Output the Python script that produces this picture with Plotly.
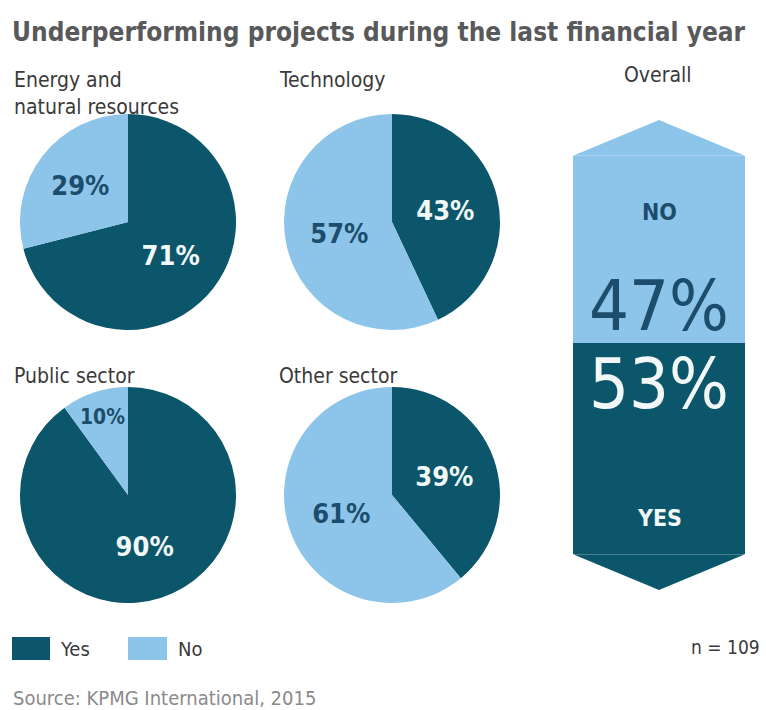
import plotly.graph_objects as go

# ---- data ----
answers = ["Yes", "No"]
sectors = ["Energy and<br>natural resources", "Technology", "Public sector", "Other sector"]
yes_pct = [71, 43, 90, 39]
no_pct = [29, 57, 10, 61]
overall_label = "Overall"
overall_yes = 53
overall_no = 47
sample_size = 109

# ---- styling ----
W, H = 766, 710
DARK = "#0b566b"
LIGHT = "#8dc5ea"
INK_ON_LIGHT = "#1d4d6c"
INK_ON_DARK = "#f2f7f7"
TITLE_GREY = "#58595b"
TEXT = "#3a3a3a"
NARROW = "DejaVu Sans Condensed, Liberation Sans Narrow, Arial Narrow, sans-serif"


def px_x(x):
    return x / W


def px_y(y):
    return 1 - y / H


fig = go.Figure()

# pie grid: centre positions in pixels, radius in pixels
centres = [(128, 222), (392, 222), (128, 495), (392, 495)]
R = 108
title_pos = [(12, 66), (277, 66), (12, 362), (277, 362)]

for name, y_v, n_v, (cx, cy) in zip(sectors, yes_pct, no_pct, centres):
    fig.add_trace(go.Pie(
        labels=answers,
        values=[y_v, n_v],
        sort=False,
        direction="clockwise",
        rotation=0,
        marker=dict(colors=[DARK, LIGHT], line=dict(width=0)),
        texttemplate="<b>%{value}%</b>",
        textposition="inside",
        insidetextorientation="horizontal",
        textfont=dict(family=NARROW, size=27, color=[INK_ON_DARK, INK_ON_LIGHT]),
        hoverinfo="label+value",
        showlegend=False,
        domain=dict(x=[px_x(cx - R), px_x(cx + R)], y=[px_y(cy + R), px_y(cy - R)]),
    ))

# overall: stacked bar with chevron ends
CHEV = 9
fig.add_trace(go.Bar(x=[0], y=[overall_yes], width=1, marker=dict(color=DARK, line=dict(width=0)),
                     name="Yes", showlegend=False, hoverinfo="y"))
fig.add_trace(go.Bar(x=[0], y=[overall_no], width=1, marker=dict(color=LIGHT, line=dict(width=0)),
                     name="No", showlegend=False, hoverinfo="y"))

total = overall_yes + overall_no
shapes = [
    dict(type="path", xref="x", yref="y", path=f"M -0.5 {total} L 0 {total + CHEV} L 0.5 {total} Z",
         fillcolor=LIGHT, line=dict(width=0), layer="below"),
    dict(type="path", xref="x", yref="y", path=f"M -0.5 0 L 0 {-CHEV} L 0.5 0 Z",
         fillcolor=DARK, line=dict(width=0), layer="below"),
    # legend swatches
    dict(type="rect", xref="paper", yref="paper", x0=px_x(12), x1=px_x(50), y0=px_y(660), y1=px_y(637),
         fillcolor=DARK, line=dict(width=0)),
    dict(type="rect", xref="paper", yref="paper", x0=px_x(128), x1=px_x(167), y0=px_y(660), y1=px_y(637),
         fillcolor=LIGHT, line=dict(width=0)),
]

annotations = [
    dict(text="<b>Underperforming projects during the last financial year</b>", x=px_x(10), y=px_y(32),
         xref="paper", yref="paper", xanchor="left", yanchor="middle", showarrow=False,
         font=dict(family=NARROW, size=26, color=TITLE_GREY)),
    dict(text=overall_label, x=px_x(658), y=px_y(75), xref="paper", yref="paper", xanchor="center",
         yanchor="middle", showarrow=False, font=dict(family=NARROW, size=21, color=TEXT)),
    dict(text="<b>NO</b>", x=0, y=total - 14, xref="x", yref="y", showarrow=False,
         font=dict(family=NARROW, size=23, color=INK_ON_LIGHT)),
    dict(text="<b>YES</b>", x=0, y=9, xref="x", yref="y", showarrow=False,
         font=dict(family=NARROW, size=23, color=INK_ON_DARK)),
    dict(text=f"{overall_no}%", x=0, y=overall_yes, xref="x", yref="y", yanchor="bottom", yshift=-6,
         showarrow=False, font=dict(family=NARROW, size=70, color=INK_ON_LIGHT)),
    dict(text=f"{overall_yes}%", x=0, y=overall_yes, xref="x", yref="y", yanchor="top", yshift=2,
         showarrow=False, font=dict(family=NARROW, size=70, color=INK_ON_DARK)),
    dict(text="Yes", x=px_x(58), y=px_y(649), xref="paper", yref="paper", xanchor="left", yanchor="middle",
         showarrow=False, font=dict(family=NARROW, size=20, color=TEXT)),
    dict(text="No", x=px_x(176), y=px_y(649), xref="paper", yref="paper", xanchor="left", yanchor="middle",
         showarrow=False, font=dict(family=NARROW, size=20, color=TEXT)),
    dict(text=f"n = {sample_size}", x=px_x(762), y=px_y(647), xref="paper", yref="paper", xanchor="right",
         yanchor="middle", showarrow=False, font=dict(family=NARROW, size=19, color=TEXT)),
    dict(text="Source: KPMG International, 2015", x=px_x(11), y=px_y(698), xref="paper", yref="paper",
         xanchor="left", yanchor="middle", showarrow=False, font=dict(family=NARROW, size=20, color="#8a8a8a")),
]
for name, (tx, ty) in zip(sectors, title_pos):
    annotations.append(dict(text=name, x=px_x(tx), y=px_y(ty), xref="paper", yref="paper", xanchor="left",
                            yanchor="top", align="left", showarrow=False,
                            font=dict(family=NARROW, size=21, color=TEXT)))

fig.update_layout(
    width=W, height=H,
    margin=dict(l=0, r=0, t=0, b=0),
    paper_bgcolor="white", plot_bgcolor="rgba(0,0,0,0)",
    barmode="stack", bargap=0,
    xaxis=dict(domain=[px_x(573), px_x(745)], range=[-0.5, 0.5], visible=False, fixedrange=True),
    yaxis=dict(domain=[px_y(590), px_y(120)], range=[-CHEV, total + CHEV], visible=False, fixedrange=True),
    shapes=shapes,
    annotations=annotations,
)

fig.write_html("out.html")
